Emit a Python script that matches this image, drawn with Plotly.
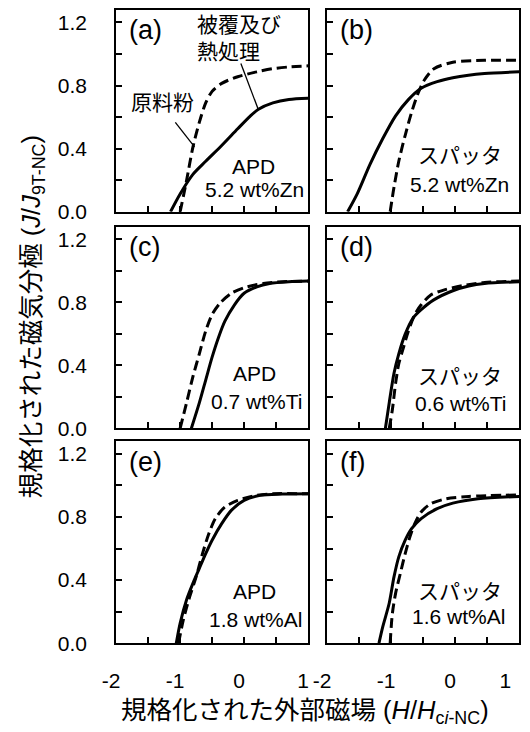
import plotly.graph_objects as go

# ---------------- data ----------------
panel_labels = ["(a)", "(b)", "(c)", "(d)", "(e)", "(f)"]
method_labels = ["APD", "スパッタ", "APD", "スパッタ", "APD", "スパッタ"]
content_labels = ["5.2 wt%Zn", "5.2 wt%Zn", "0.7 wt%Ti", "0.6 wt%Ti", "1.8 wt%Al", "1.6 wt%Al"]

x_tick_vals = [-2, -1.5, -1, -0.5, 0, 0.5, 1]
x_tick_text = ["-2", "", "-1", "", "0", "", "1"]
y_tick_vals = [0, 0.2, 0.4, 0.6, 0.8, 1.0, 1.2]
y_tick_text = ["0.0", "", "0.4", "", "0.8", "", "1.2"]

# raw powder (dashed) and coated + heat treated (solid)
a_raw_x = [-1.0, -0.9, -0.8, -0.7, -0.6, -0.5, -0.35, -0.1, 0.2, 0.45, 0.7, 1.0]
a_raw_y = [0.0, 0.196, 0.41, 0.567, 0.69, 0.763, 0.814, 0.856, 0.887, 0.907, 0.918, 0.925]
a_coat_x = [-1.15, -1.0, -0.8, -0.6, -0.35, -0.1, 0.1, 0.225, 0.45, 0.7, 1.0]
a_coat_y = [0.0, 0.113, 0.237, 0.32, 0.42, 0.526, 0.608, 0.65, 0.69, 0.712, 0.72]

b_raw_x = [-1.015, -0.955, -0.88, -0.78, -0.68, -0.58, -0.48, -0.33, -0.035, 0.46, 1.0]
b_raw_y = [0.0, 0.155, 0.32, 0.485, 0.63, 0.75, 0.835, 0.907, 0.948, 0.96, 0.96]
b_coat_x = [-1.68, -1.53, -1.33, -1.13, -0.93, -0.73, -0.53, -0.28, -0.035, 0.21, 0.46, 1.0]
b_coat_y = [0.0, 0.113, 0.3, 0.464, 0.608, 0.711, 0.783, 0.825, 0.85, 0.866, 0.876, 0.887]

c_raw_x = [-1.0, -0.9, -0.8, -0.7, -0.6, -0.5, -0.375, -0.2, 0.0, 0.3, 0.6, 1.0]
c_raw_y = [0.0, 0.162, 0.328, 0.473, 0.618, 0.722, 0.795, 0.857, 0.892, 0.919, 0.93, 0.934]
c_coat_x = [-0.825, -0.7, -0.6, -0.5, -0.4, -0.3, -0.15, 0.0, 0.2, 0.4, 0.7, 1.0]
c_coat_y = [0.0, 0.162, 0.307, 0.452, 0.577, 0.68, 0.784, 0.857, 0.898, 0.919, 0.93, 0.934]

d_raw_x = [-1.03, -0.98, -0.93, -0.88, -0.806, -0.73, -0.63, -0.53, -0.38, -0.18, 0.115, 0.46, 1.0]
d_raw_y = [0.0, 0.12, 0.286, 0.41, 0.515, 0.618, 0.722, 0.784, 0.846, 0.877, 0.905, 0.925, 0.934]
d_coat_x = [-1.09, -1.03, -0.955, -0.88, -0.78, -0.657, -0.53, -0.333, -0.035, 0.214, 0.46, 1.0]
d_coat_y = [0.0, 0.162, 0.35, 0.473, 0.598, 0.7, 0.753, 0.815, 0.873, 0.903, 0.919, 0.93]

e_raw_x = [-1.025, -0.95, -0.85, -0.75, -0.65, -0.55, -0.45, -0.3, -0.1, 0.2, 0.45, 1.0]
e_raw_y = [0.0, 0.147, 0.295, 0.42, 0.568, 0.695, 0.79, 0.863, 0.905, 0.937, 0.947, 0.947]
e_coat_x = [-1.06, -1.0, -0.9, -0.8, -0.7, -0.6, -0.5, -0.35, -0.2, 0.0, 0.25, 0.6, 1.0]
e_coat_y = [0.0, 0.126, 0.274, 0.379, 0.474, 0.568, 0.653, 0.758, 0.842, 0.905, 0.937, 0.945, 0.947]

f_raw_x = [-1.015, -0.98, -0.93, -0.856, -0.78, -0.706, -0.63, -0.53, -0.38, -0.134, 0.214, 1.0]
f_raw_y = [0.0, 0.19, 0.316, 0.442, 0.568, 0.674, 0.758, 0.832, 0.884, 0.916, 0.93, 0.94]
f_coat_x = [-1.19, -1.13, -1.03, -0.955, -0.88, -0.78, -0.68, -0.53, -0.28, -0.035, 0.36, 1.0]
f_coat_y = [0.0, 0.105, 0.253, 0.42, 0.547, 0.653, 0.726, 0.79, 0.853, 0.888, 0.916, 0.93]

raw_series = [(a_raw_x, a_raw_y), (b_raw_x, b_raw_y), (c_raw_x, c_raw_y),
              (d_raw_x, d_raw_y), (e_raw_x, e_raw_y), (f_raw_x, f_raw_y)]
coat_series = [(a_coat_x, a_coat_y), (b_coat_x, b_coat_y), (c_coat_x, c_coat_y),
               (d_coat_x, d_coat_y), (e_coat_x, e_coat_y), (f_coat_x, f_coat_y)]

# ---------------- layout geometry / styling ----------------
W, H = 530, 732
col_px = [(107, 308), (328, 529)]
row_px = [(10, 215), (230, 435), (448, 653)]
# text placement inside each panel (axis units)
method_pos = [(0.15, 0.29), (0.075, 0.355), (0.16, 0.35), (0.075, 0.33), (0.16, 0.326), (0.075, 0.326)]
content_pos = [(0.16, 0.14), (0.075, 0.175), (0.19, 0.17), (0.09, 0.16), (0.18, 0.147), (0.05, 0.168)]

NB = "\u00a0"
FONT = "Liberation Sans, Arial, Noto Sans CJK JP, sans-serif"


def x_labels(col):
    out = []
    for t in x_tick_text:
        if col == 1 and t == "1":
            out.append(t + NB * 3)
        else:
            out.append(t)
    return out


fig = go.Figure()
layout = dict(
    width=W, height=H,
    margin=dict(l=0, r=0, t=0, b=0),
    paper_bgcolor="white", plot_bgcolor="white",
    showlegend=False,
    font=dict(family=FONT, size=21, color="black"),
)

annotations = []
shapes = []

for i in range(6):
    r, c = divmod(i, 2)
    n = "" if i == 0 else str(i + 1)
    xa, ya = "x" + n, "y" + n
    x0, x1 = col_px[c]
    top, bot = row_px[r]
    layout["xaxis" + n] = dict(
        domain=[x0 / W, x1 / W], anchor=ya, range=[-2, 1],
        showline=True, linecolor="black", linewidth=2, mirror=True,
        ticks="inside", ticklen=6, tickwidth=1.5, tickcolor="black",
        tickvals=x_tick_vals, ticktext=x_labels(c),
        showticklabels=(r == 2), ticklabelstandoff=18,
        ticklabelshift=-5, ticklabeloverflow="allow",
        showgrid=False, zeroline=False, fixedrange=True,
        tickfont=dict(size=21),
    )
    layout["yaxis" + n] = dict(
        domain=[(H - bot) / H, (H - top) / H], anchor=xa, range=[0, 1.28],
        showline=True, linecolor="black", linewidth=2, mirror=True,
        ticks="inside", ticklen=6, tickwidth=1.5, tickcolor="black",
        tickvals=y_tick_vals, ticktext=y_tick_text,
        showticklabels=(c == 0), ticklabelstandoff=23,
        showgrid=False, zeroline=False, fixedrange=True,
        tickfont=dict(size=21),
    )
    rx, ry = raw_series[i]
    cx, cy = coat_series[i]
    fig.add_trace(go.Scatter(x=rx, y=ry, mode="lines", xaxis=xa, yaxis=ya,
                             line=dict(color="black", width=3, dash="10px,5px",
                                       shape="spline", smoothing=0.8)))
    fig.add_trace(go.Scatter(x=cx, y=cy, mode="lines", xaxis=xa, yaxis=ya,
                             line=dict(color="black", width=3,
                                       shape="spline", smoothing=0.8)))
    annotations.append(dict(text=panel_labels[i], x=-1.83, y=1.15, xref=xa, yref=ya,
                            xanchor="left", yanchor="middle", showarrow=False,
                            font=dict(size=27)))
    mx, my = method_pos[i]
    annotations.append(dict(text=method_labels[i], x=mx, y=my, xref=xa, yref=ya,
                            xanchor="center", yanchor="middle", showarrow=False,
                            font=dict(size=21)))
    tx, ty = content_pos[i]
    annotations.append(dict(text=content_labels[i], x=tx, y=ty, xref=xa, yref=ya,
                            xanchor="center", yanchor="middle", showarrow=False,
                            font=dict(size=21)))

# labels inside panel (a)
annotations.append(dict(text="被覆及び<br>熱処理", x=-0.76, y=1.1, xref="x", yref="y",
                        xanchor="left", yanchor="middle", align="left", showarrow=False,
                        font=dict(size=21)))
annotations.append(dict(text="原料粉", x=-1.27, y=0.69, xref="x", yref="y",
                        xanchor="center", yanchor="middle", showarrow=False,
                        font=dict(size=21)))
shapes.append(dict(type="line", xref="x", yref="y", x0=-0.05, y0=0.94, x1=0.225, y1=0.645,
                   line=dict(color="black", width=1.3)))
shapes.append(dict(type="line", xref="x", yref="y", x0=-1.075, y0=0.567, x1=-0.775, y1=0.412,
                   line=dict(color="black", width=1.3)))

# axis titles
annotations.append(dict(text="規格化された外部磁場 (<i>H</i>/<i>H</i><sub>c<i>i</i>-NC</sub>)",
                        x=305 / W, y=(H - 723) / H, xref="paper", yref="paper",
                        xanchor="center", yanchor="middle", showarrow=False,
                        font=dict(size=25.5)))
annotations.append(dict(text="規格化された磁気分極 (<i>J</i>/<i>J</i><sub>9T-NC</sub>)",
                        x=20 / W, y=(H - 322) / H, xref="paper", yref="paper",
                        xanchor="center", yanchor="middle", showarrow=False, textangle=-90,
                        font=dict(size=25.5)))

layout["annotations"] = annotations
layout["shapes"] = shapes
fig.update_layout(**layout)
fig.write_html("out.html",
               config={"displayModeBar": False},
               post_script="document.body.style.margin='0';document.body.style.padding='0';"
                           "document.documentElement.style.overflow='hidden';")
